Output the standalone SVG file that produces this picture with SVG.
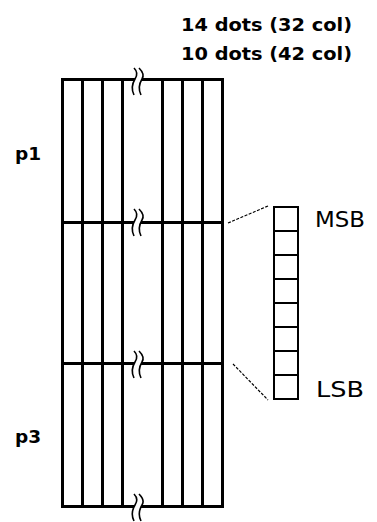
<svg xmlns="http://www.w3.org/2000/svg" width="377" height="522" viewBox="0 0 377 522">
<style>
.grid{stroke:#000;stroke-width:3;fill:none;stroke-linecap:square}
.thin{stroke:#000;stroke-width:1.6;fill:none}
.cell{stroke:#000;stroke-width:2;fill:#fff}
.dash{stroke:#000;stroke-width:1.2;stroke-dasharray:3,1.5;fill:none}
.bold{font-family:"DejaVu Sans",Verdana,sans-serif;font-weight:bold;font-size:18.5px;fill:#000}
.reg{font-family:"DejaVu Sans",Verdana,sans-serif;font-size:22px;fill:#000}
</style>
<defs>
<g id="brk">
<path d="M134,-13 C138,-9 137,-5 135,-2 C132,3 131,8 134,14 L141,14 C138,8 139,3 142,-2 C144,-5 143,-9 139,-13 Z" fill="#fff" stroke="none"/>
<path class="thin" d="M134,-13 C138,-9 137,-5 135,-2 C132,3 131,8 134,14"/>
<path class="thin" d="M139,-13 C143,-9 144,-5 142,-2 C139,3 138,8 141,14"/>
</g>
</defs>
<g id="grid">
<path class="grid" d="M62.5,79.5 V506.5 M82.5,79.5 V506.5 M102.5,79.5 V506.5 M122.5,79.5 V506.5 M162.5,79.5 V506.5 M182.5,79.5 V506.5 M202.5,79.5 V506.5 M222.5,79.5 V506.5"/>
<path class="grid" d="M62.5,79.5 H222.5 M62.5,222.5 H222.5 M62.5,363.5 H222.5 M62.5,506.5 H222.5"/>
<use href="#brk" x="0" y="81"/>
<use href="#brk" x="0" y="222"/>
<use href="#brk" x="0" y="364"/>
<use href="#brk" x="0" y="507"/>
</g>
<g id="bits">
<rect class="cell" x="274" y="207" width="24" height="24"/>
<rect class="cell" x="274" y="231" width="24" height="24"/>
<rect class="cell" x="274" y="255" width="24" height="24"/>
<rect class="cell" x="274" y="279" width="24" height="24"/>
<rect class="cell" x="274" y="303" width="24" height="24"/>
<rect class="cell" x="274" y="327" width="24" height="24"/>
<rect class="cell" x="274" y="351" width="24" height="24"/>
<rect class="cell" x="274" y="375" width="24" height="24"/>
</g>
<g id="connectors">
<path class="dash" d="M228,223 L268,206"/>
<path class="dash" d="M233,364 L268,400"/>
</g>
<g id="labels">
<text class="bold" x="181" y="31" textLength="171" lengthAdjust="spacingAndGlyphs">14 dots (32 col)</text>
<text class="bold" x="181" y="60" textLength="171" lengthAdjust="spacingAndGlyphs">10 dots (42 col)</text>
<text class="bold" x="15" y="160">p1</text>
<text class="bold" x="15" y="443">p3</text>
<text class="reg" x="315" y="227" textLength="50" lengthAdjust="spacingAndGlyphs">MSB</text>
<text class="reg" x="316" y="397" textLength="48" lengthAdjust="spacingAndGlyphs">LSB</text>
</g>
</svg>
